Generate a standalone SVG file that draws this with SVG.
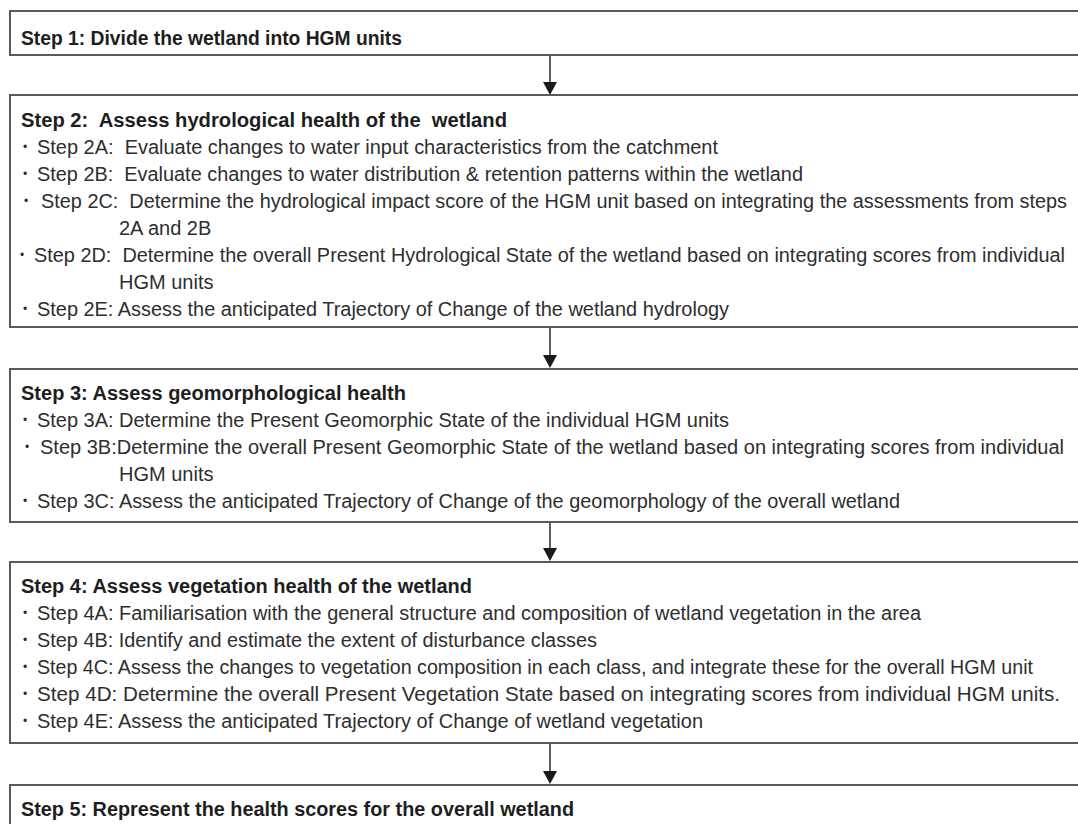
<svg xmlns="http://www.w3.org/2000/svg" width="1078" height="824" viewBox="0 0 1078 824">
<defs>
<style>
.box{fill:#ffffff;stroke:#5a5a5a;stroke-width:2}
.t{font-family:"Liberation Sans",Arial,sans-serif;font-size:20px;fill:#2e2e2e;white-space:pre}
.h{font-weight:bold;fill:#1e1e1e}
.b{font-family:"Liberation Sans",Arial,sans-serif;font-size:12px;fill:#2e2e2e}
.c{stroke:#2a2a2a;stroke-width:1.5;fill:none}
.ah{fill:#1a1a1a}
</style>
</defs>
<rect width="1078" height="824" fill="#ffffff"/>

<g id="connectors">
<line class="c" x1="550" y1="56" x2="550" y2="82"/>
<path class="ah" d="M543,82 L557,82 L550,95 Z"/>
<line class="c" x1="550" y1="328" x2="550" y2="355"/>
<path class="ah" d="M543,355 L557,355 L550,368 Z"/>
<line class="c" x1="550" y1="523" x2="550" y2="548"/>
<path class="ah" d="M543,548 L557,548 L550,561 Z"/>
<line class="c" x1="550" y1="744" x2="550" y2="771"/>
<path class="ah" d="M543,771 L557,771 L550,784 Z"/>
</g>

<g id="step1">
<rect class="box" x="10" y="11" width="1080" height="44"/>
<text class="t h" x="21" y="45" textLength="381" lengthAdjust="spacingAndGlyphs">Step 1: Divide the wetland into HGM units</text>
</g>

<g id="step2">
<rect class="box" x="10" y="95" width="1080" height="232"/>
<text class="t h" x="21" y="127" textLength="486" lengthAdjust="spacingAndGlyphs">Step 2:  Assess hydrological health of the  wetland</text>
<text class="b" x="23" y="151">•</text>
<text class="t" x="37" y="154" textLength="681" lengthAdjust="spacingAndGlyphs">Step 2A:  Evaluate changes to water input characteristics from the catchment</text>
<text class="b" x="23" y="178">•</text>
<text class="t" x="37" y="181" textLength="766" lengthAdjust="spacingAndGlyphs">Step 2B:  Evaluate changes to water distribution &amp; retention patterns within the wetland</text>
<text class="b" x="24" y="205">•</text>
<text class="t" x="41" y="208" textLength="1026" lengthAdjust="spacingAndGlyphs">Step 2C:  Determine the hydrological impact score of the HGM unit based on integrating the assessments from steps</text>
<text class="t" x="119" y="235">2A and 2B</text>
<text class="b" x="20" y="259">•</text>
<text class="t" x="34" y="262" textLength="1031" lengthAdjust="spacingAndGlyphs">Step 2D:  Determine the overall Present Hydrological State of the wetland based on integrating scores from individual</text>
<text class="t" x="119" y="289">HGM units</text>
<text class="b" x="23" y="313">•</text>
<text class="t" x="37" y="316" textLength="692" lengthAdjust="spacingAndGlyphs">Step 2E: Assess the anticipated Trajectory of Change of the wetland hydrology</text>
</g>

<g id="step3">
<rect class="box" x="10" y="369" width="1080" height="153"/>
<text class="t h" x="21" y="400" textLength="385" lengthAdjust="spacingAndGlyphs">Step 3: Assess geomorphological health</text>
<text class="b" x="23" y="424">•</text>
<text class="t" x="37" y="427" textLength="692" lengthAdjust="spacingAndGlyphs">Step 3A: Determine the Present Geomorphic State of the individual HGM units</text>
<text class="b" x="25" y="451">•</text>
<text class="t" x="40" y="454" textLength="1024" lengthAdjust="spacingAndGlyphs">Step 3B:Determine the overall Present Geomorphic State of the wetland based on integrating scores from individual</text>
<text class="t" x="119" y="481">HGM units</text>
<text class="b" x="23" y="505">•</text>
<text class="t" x="37" y="508" textLength="863" lengthAdjust="spacingAndGlyphs">Step 3C: Assess the anticipated Trajectory of Change of the geomorphology of the overall wetland</text>
</g>

<g id="step4">
<rect class="box" x="10" y="562" width="1080" height="181"/>
<text class="t h" x="21" y="593" textLength="451" lengthAdjust="spacingAndGlyphs">Step 4: Assess vegetation health of the wetland</text>
<text class="b" x="23" y="617">•</text>
<text class="t" x="37" y="620" textLength="884" lengthAdjust="spacingAndGlyphs">Step 4A: Familiarisation with the general structure and composition of wetland vegetation in the area</text>
<text class="b" x="23" y="644">•</text>
<text class="t" x="37" y="647" textLength="560" lengthAdjust="spacingAndGlyphs">Step 4B: Identify and estimate the extent of disturbance classes</text>
<text class="b" x="23" y="671">•</text>
<text class="t" x="37" y="674" textLength="996" lengthAdjust="spacingAndGlyphs">Step 4C: Assess the changes to vegetation composition in each class, and integrate these for the overall HGM unit</text>
<text class="b" x="23" y="698">•</text>
<text class="t" x="37" y="701" textLength="1023" lengthAdjust="spacingAndGlyphs">Step 4D: Determine the overall Present Vegetation State based on integrating scores from individual HGM units.</text>
<text class="b" x="23" y="725">•</text>
<text class="t" x="37" y="728" textLength="666" lengthAdjust="spacingAndGlyphs">Step 4E: Assess the anticipated Trajectory of Change of wetland vegetation</text>
</g>

<g id="step5">
<rect class="box" x="10" y="785" width="1080" height="60"/>
<text class="t h" x="21" y="816" textLength="553" lengthAdjust="spacingAndGlyphs">Step 5: Represent the health scores for the overall wetland</text>
</g>
</svg>
